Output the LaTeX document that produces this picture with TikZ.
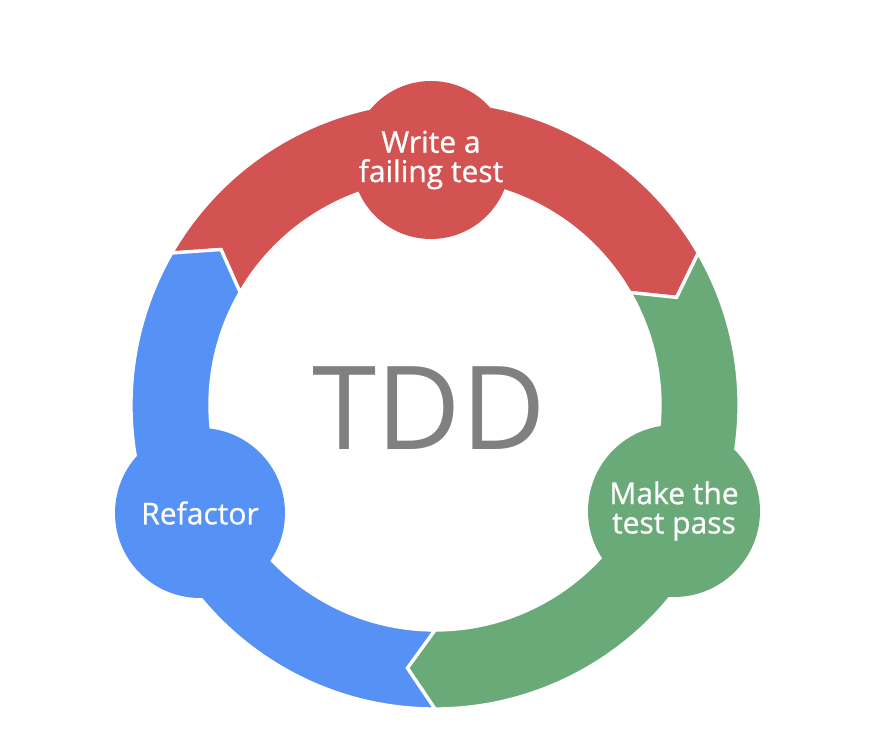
\documentclass[tikz,border=0pt]{standalone}
\usepackage{fontspec}
\setmainfont{Open Sans}
\newfontfamily\bubblefont{Open Sans}[FakeBold=0.8]

\definecolor{tddred}{RGB}{211,83,82}
\definecolor{tddgreen}{RGB}{106,170,120}
\definecolor{tddblue}{RGB}{86,145,245}
\definecolor{tddgray}{RGB}{128,128,128}

\begin{document}
\begin{tikzpicture}[x=0.75pt,y=0.75pt,line join=miter,
    every node/.style={inner sep=0pt},
    bubble/.style={circle,text=white,align=center,font=\bubblefont\fontsize{22.5}{22}\selectfont}]
    \useasboundingbox (0,0) rectangle (882,749);
    \coordinate (hub) at (435,344);
    \foreach \s/\e/\col in {150/30/tddred,30/-90/tddgreen,270/150/tddblue} {
        \filldraw[fill=\col,draw=white,line width=2.5pt,shift={(hub)}]
            (\s:304) arc[start angle=\s,end angle=\e,radius=304]
            -- ({\e-6}:264.5) -- (\e:225)
            arc[start angle=\e,end angle=\s,radius=225]
            -- ({\s-6}:264.5) -- cycle;
    }
    \node[bubble,fill=tddred,minimum size=118.5pt] (write) at (431,589) {Write a\\failing test};
    \node[bubble,fill=tddgreen,minimum size=129pt] (pass) at (674,238) {Make the\\test pass};
    \node[bubble,fill=tddblue,minimum size=127.5pt] (refactor) at (200,236) {Refactor};
    \node[text=tddgray,font=\fontsize{87}{87}\selectfont] (tdd) at (429,341) {TDD};
\end{tikzpicture}
\end{document}
